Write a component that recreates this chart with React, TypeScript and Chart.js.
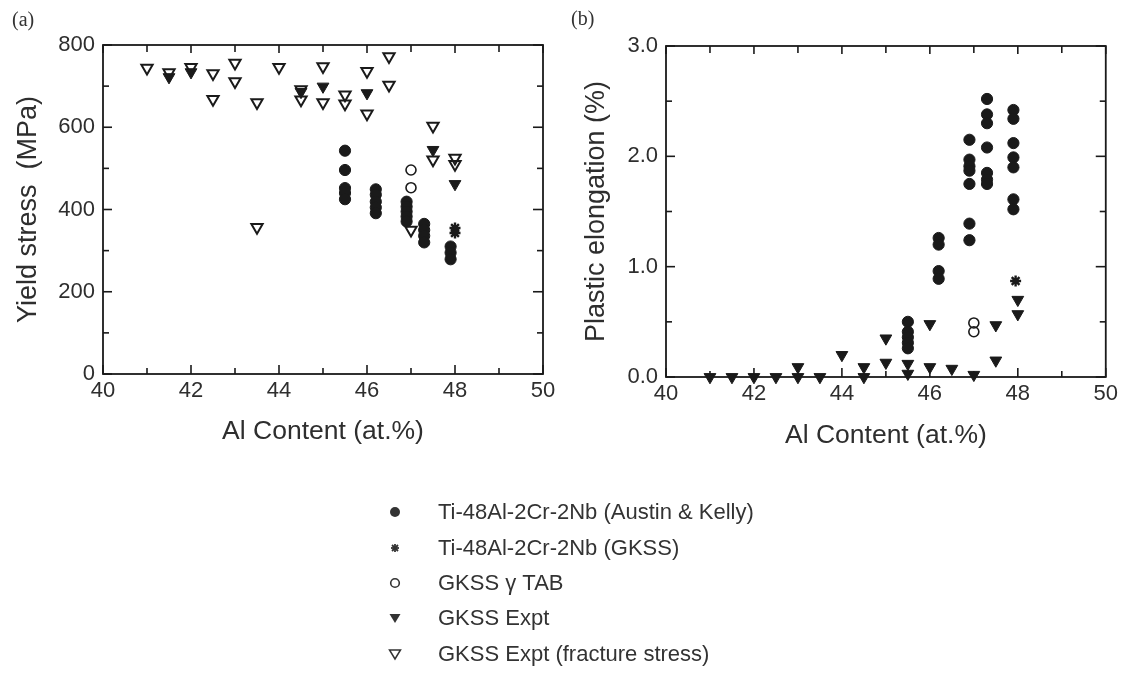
import React, { useEffect, useRef } from "react";
import { Chart, registerables } from "chart.js";

Chart.register(...registerables);

const FONT = '"Liberation Sans", Arial, Helvetica, sans-serif';
const INK = "#1a1a1a";
const TEXT = "#2e2e2e";

// ---------- (a) Yield stress (MPa) ----------
const austinA_x = [45.5, 45.5, 45.5, 45.5, 45.5, 46.2, 46.2, 46.2, 46.2, 46.2, 46.9, 46.9, 46.9, 46.9, 46.9, 47.3, 47.3, 47.3, 47.3, 47.9, 47.9, 47.9];
const austinA_y = [543, 496, 452, 440, 425, 449, 436, 419, 405, 391, 419, 407, 395, 383, 371, 365, 350, 336, 320, 310, 295, 279];
const gkssA_x = [48, 48];
const gkssA_y = [355, 343];
const tabA_x = [47, 47];
const tabA_y = [496, 453];
const exptA_x = [41.5, 42, 44.5, 45, 46, 47.5, 48];
const exptA_y = [722, 734, 686, 699, 683, 545, 462];
const fractA_x = [41, 41.5, 42, 42.5, 42.5, 43, 43, 43.5, 43.5, 44, 44.5, 44.5, 45, 45, 45.5, 45.5, 46, 46, 46.5, 46.5, 47, 47.5, 47.5, 48, 48];
const fractA_y = [744, 733, 746, 731, 668, 756, 711, 660, 357, 746, 692, 667, 748, 660, 679, 657, 736, 633, 772, 703, 350, 603, 521, 525, 510];

// ---------- (b) Plastic elongation (%) ----------
const austinB_x = [45.5, 45.5, 45.5, 45.5, 45.5, 46.2, 46.2, 46.2, 46.2, 46.9, 46.9, 46.9, 46.9, 46.9, 46.9, 46.9, 47.3, 47.3, 47.3, 47.3, 47.3, 47.3, 47.3, 47.9, 47.9, 47.9, 47.9, 47.9, 47.9, 47.9];
const austinB_y = [0.5, 0.41, 0.36, 0.31, 0.26, 1.26, 1.2, 0.96, 0.89, 2.15, 1.97, 1.91, 1.87, 1.75, 1.39, 1.24, 2.52, 2.38, 2.3, 2.08, 1.85, 1.79, 1.75, 2.42, 2.34, 2.12, 1.99, 1.9, 1.61, 1.52];
const gkssB_x = [47.95];
const gkssB_y = [0.87];
const tabB_x = [47, 47];
const tabB_y = [0.49, 0.41];
const exptB_x = [41, 41.5, 42, 42.5, 43, 43, 43.5, 44, 44.5, 44.5, 45, 45, 45.5, 45.5, 46, 46, 46.5, 47, 47.5, 47.5, 48, 48];
const exptB_y = [0.0, 0.0, 0.0, 0.0, 0.09, 0.0, 0.0, 0.2, 0.09, 0.0, 0.35, 0.13, 0.12, 0.03, 0.48, 0.09, 0.075, 0.02, 0.47, 0.15, 0.7, 0.57];

// ---------- axes ----------
const xMin = 40;
const xMax = 50;
const xStep = 2;
const yAMax = 800;
const yAStep = 200;
const yBMax = 3;
const yBStep = 1;

const seriesLabels = [
  "Ti-48Al-2Cr-2Nb (Austin & Kelly)",
  "Ti-48Al-2Cr-2Nb (GKSS)",
  "GKSS \u03b3 TAB",
  "GKSS Expt",
  "GKSS Expt (fracture stress)",
];
const xTitle = "Al Content (at.%)";
const yATitle = "Yield stress  (MPa)";
const yBTitle = "Plastic elongation (%)";

const pts = (xs: number[], ys: number[]) => xs.map((x, i) => ({ x, y: ys[i] }));

const styles: any[] = [
  { pointStyle: "circle", pointRadius: 5.6, pointBackgroundColor: INK, pointBorderColor: INK, pointBorderWidth: 1 },
  { pointStyle: "star", pointRadius: 5.5, pointBackgroundColor: INK, pointBorderColor: INK, pointBorderWidth: 2.4 },
  { pointStyle: "circle", pointRadius: 5, pointBackgroundColor: "rgba(255,255,255,0)", pointBorderColor: INK, pointBorderWidth: 1.6 },
  { pointStyle: "triangle", pointRotation: 180, pointRadius: 6.8, pointBackgroundColor: INK, pointBorderColor: INK, pointBorderWidth: 1 },
  { pointStyle: "triangle", pointRotation: 180, pointRadius: 6.5, pointBackgroundColor: "rgba(255,255,255,0)", pointBorderColor: INK, pointBorderWidth: 2 },
];

function makeDatasets(groups: [number[], number[]][]) {
  return groups.map(([xs, ys], i) => ({
    label: seriesLabels[i],
    data: pts(xs, ys),
    showLine: false,
    clip: false,
    ...styles[i],
  }));
}

const framePlugin = {
  id: "frame",
  beforeDatasetsDraw(chart: any) {
    const { ctx, chartArea, scales } = chart;
    const { left, right, top, bottom } = chartArea;
    const x = scales.x;
    const y = scales.y;
    ctx.save();
    ctx.strokeStyle = INK;
    ctx.lineWidth = 1.8;
    ctx.strokeRect(left, top, right - left, bottom - top);
    ctx.lineWidth = 1.6;
    const line = (a: number, b: number, c: number, d: number) => {
      ctx.beginPath();
      ctx.moveTo(a, b);
      ctx.lineTo(c, d);
      ctx.stroke();
    };
    const xv = x.ticks.map((t: any) => t.value);
    const xs = xv[1] - xv[0];
    for (let i = 0; i < xv.length; i++) {
      const v = xv[i];
      const px = x.getPixelForValue(v);
      line(px, bottom, px, bottom - 9);
      line(px, top, px, top + 8);
      if (i < xv.length - 1) {
        const pm = x.getPixelForValue(v + xs / 2);
        line(pm, bottom, pm, bottom - 6);
        line(pm, top, pm, top + 7);
      }
    }
    const yv = y.ticks.map((t: any) => t.value);
    const ys = yv[1] - yv[0];
    for (let i = 0; i < yv.length; i++) {
      const v = yv[i];
      const py = y.getPixelForValue(v);
      line(left, py, left + 9, py);
      line(right, py, right - 10, py);
      if (i < yv.length - 1) {
        const pm = y.getPixelForValue(v + ys / 2);
        line(left, pm, left + 6, pm);
        line(right, pm, right - 6, pm);
      }
    }
    ctx.restore();
  },
};

function makeOptions(p: {
  yMax: number;
  yStep: number;
  yTitle: string;
  yFmt: (v: number) => string;
  yWidth: number;
  xHeight: number;
  padTop: number;
  padRight: number;
  xTitlePadBottom: number;
  yTitlePadTop: number;
}): any {
  return {
    responsive: false,
    animation: false,
    devicePixelRatio: 1,
    layout: { padding: { left: 0, top: p.padTop, right: p.padRight, bottom: 0 } },
    plugins: { legend: { display: false }, tooltip: { enabled: false } },
    scales: {
      x: {
        type: "linear",
        min: xMin,
        max: xMax,
        grid: { display: false, drawTicks: false, tickLength: 0 },
        border: { display: false },
        ticks: { stepSize: xStep, padding: 4, color: TEXT, font: { family: FONT, size: 22 }, maxRotation: 0 },
        title: {
          display: true,
          text: xTitle,
          color: TEXT,
          font: { family: FONT, size: 26.5 },
          padding: { top: 0, bottom: p.xTitlePadBottom },
        },
        afterFit: (s: any) => {
          s.height = p.xHeight;
        },
      },
      y: {
        type: "linear",
        min: 0,
        max: p.yMax,
        grid: { display: false, drawTicks: false, tickLength: 0 },
        border: { display: false },
        ticks: {
          stepSize: p.yStep,
          padding: 8,
          color: TEXT,
          font: { family: FONT, size: 22 },
          callback: (v: any) => p.yFmt(Number(v)),
        },
        title: {
          display: true,
          text: p.yTitle,
          color: TEXT,
          font: { family: FONT, size: 27 },
          padding: { top: p.yTitlePadTop, bottom: 0 },
        },
        afterFit: (s: any) => {
          s.width = p.yWidth;
        },
      },
    },
  };
}

function Legend() {
  const rowsY = [512, 548, 583, 618, 654];
  const mx = 395;
  const c = "#333";
  const markers = [
    <circle cx={mx} cy={rowsY[0]} r={5} fill={c} />,
    <g stroke={c} strokeWidth={1.8}>
      <line x1={mx - 4} y1={rowsY[1]} x2={mx + 4} y2={rowsY[1]} />
      <line x1={mx} y1={rowsY[1] - 4} x2={mx} y2={rowsY[1] + 4} />
      <line x1={mx - 3} y1={rowsY[1] - 3} x2={mx + 3} y2={rowsY[1] + 3} />
      <line x1={mx - 3} y1={rowsY[1] + 3} x2={mx + 3} y2={rowsY[1] - 3} />
    </g>,
    <circle cx={mx} cy={rowsY[2]} r={4.3} fill="none" stroke={c} strokeWidth={1.6} />,
    <polygon points={`${mx - 5.5},${rowsY[3] - 4} ${mx + 5.5},${rowsY[3] - 4} ${mx},${rowsY[3] + 5}`} fill={c} />,
    <polygon points={`${mx - 5.5},${rowsY[4] - 4} ${mx + 5.5},${rowsY[4] - 4} ${mx},${rowsY[4] + 5}`} fill="none" stroke={c} strokeWidth={1.5} />,
  ];
  return (
    <>
      <svg width={1122} height={675} style={{ position: "absolute", left: 0, top: 0, pointerEvents: "none" }}>
        {markers.map((m, i) => (
          <React.Fragment key={i}>{m}</React.Fragment>
        ))}
      </svg>
      {seriesLabels.map((t, i) => (
        <div
          key={t}
          style={{
            position: "absolute",
            left: 438,
            top: rowsY[i] - 13,
            height: 26,
            lineHeight: "26px",
            fontFamily: FONT,
            fontSize: 22,
            color: "#333",
            whiteSpace: "nowrap",
          }}
        >
          {t}
        </div>
      ))}
    </>
  );
}

export default function App() {
  const refA = useRef<HTMLCanvasElement>(null);
  const refB = useRef<HTMLCanvasElement>(null);

  useEffect(() => {
    const chartA = new Chart(refA.current as HTMLCanvasElement, {
      type: "scatter",
      data: {
        datasets: makeDatasets([
          [austinA_x, austinA_y],
          [gkssA_x, gkssA_y],
          [tabA_x, tabA_y],
          [exptA_x, exptA_y],
          [fractA_x, fractA_y],
        ]) as any,
      },
      options: makeOptions({
        yMax: yAMax,
        yStep: yAStep,
        yTitle: yATitle,
        yFmt: (v) => String(v),
        yWidth: 103,
        xHeight: 96,
        padTop: 45,
        padRight: 17,
        xTitlePadBottom: 22,
        yTitlePadTop: 12,
      }),
      plugins: [framePlugin],
    });
    const chartB = new Chart(refB.current as HTMLCanvasElement, {
      type: "scatter",
      data: {
        datasets: makeDatasets([
          [austinB_x, austinB_y],
          [gkssB_x, gkssB_y],
          [tabB_x, tabB_y],
          [exptB_x, exptB_y],
          [[], []],
        ]) as any,
      },
      options: makeOptions({
        yMax: yBMax,
        yStep: yBStep,
        yTitle: yBTitle,
        yFmt: (v) => v.toFixed(1),
        yWidth: 106,
        xHeight: 93,
        padTop: 46,
        padRight: 11,
        xTitlePadBottom: 18,
        yTitlePadTop: 20,
      }),
      plugins: [framePlugin],
    });
    return () => {
      chartA.destroy();
      chartB.destroy();
    };
  }, []);

  return (
    <div style={{ position: "absolute", left: 0, top: 0, width: 1122, height: 675, background: "#fff", overflow: "hidden" }}>
      <canvas ref={refA} width={560} height={470} style={{ position: "absolute", left: 0, top: 0 }} />
      <canvas ref={refB} width={562} height={470} style={{ position: "absolute", left: 560, top: 0 }} />
      <div style={{ position: "absolute", left: 12, top: 8, fontFamily: '"Liberation Serif", "Times New Roman", serif', fontSize: 20, color: "#333" }}>(a)</div>
      <div style={{ position: "absolute", left: 571, top: 7, fontFamily: '"Liberation Serif", "Times New Roman", serif', fontSize: 20, color: "#333" }}>(b)</div>
      <Legend />
    </div>
  );
}
